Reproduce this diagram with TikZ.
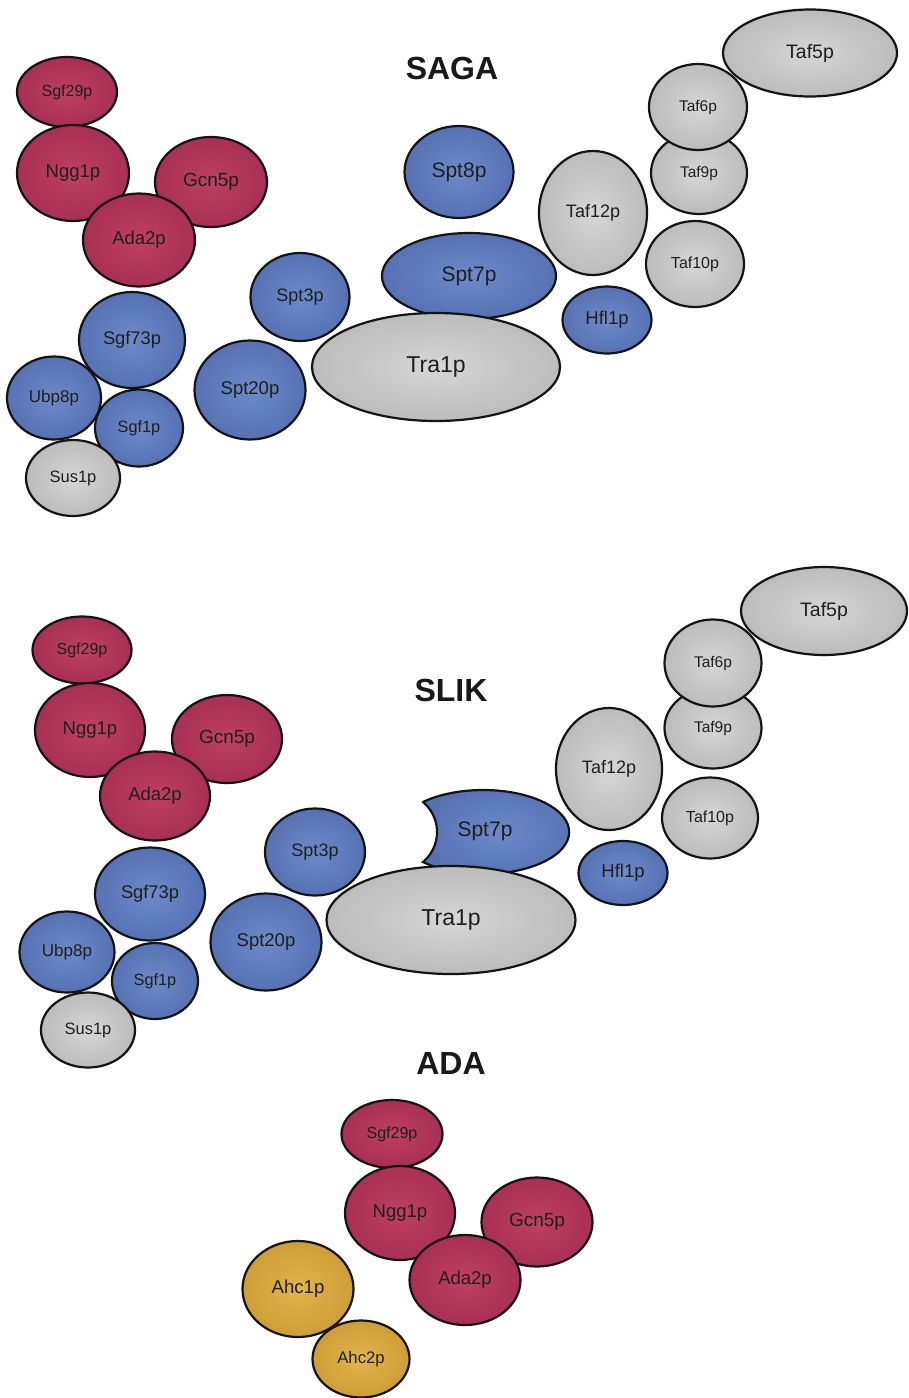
\documentclass[tikz,border=0pt]{standalone}
\usepackage{fontspec}
\setmainfont{Liberation Sans}
\usetikzlibrary{shapes.geometric}
\definecolor{redIn}{RGB}{190,64,100}
\definecolor{redOut}{RGB}{168,48,84}
\definecolor{bluIn}{RGB}{108,138,200}
\definecolor{bluOut}{RGB}{86,114,180}
\definecolor{gryIn}{RGB}{214,214,214}
\definecolor{gryOut}{RGB}{188,188,188}
\definecolor{golIn}{RGB}{226,180,76}
\definecolor{golOut}{RGB}{206,158,54}
\definecolor{txt}{RGB}{30,30,30}
\tikzset{
  x=1pt, y=1pt,
  prot/.style={ellipse, draw=black!92, line width=2.2pt, inner sep=0pt,
    text=txt, shade},
  protR/.style={prot, inner color=redIn, outer color=redOut},
  protB/.style={prot, inner color=bluIn, outer color=bluOut},
  protG/.style={prot, inner color=gryIn, outer color=gryOut},
  protY/.style={prot, inner color=golIn, outer color=golOut},
  sz/.style 2 args={minimum width=#1pt, minimum height=#2pt},
  fs/.style={font=\fontsize{#1}{#1}\selectfont},
  title/.style={font=\fontsize{32}{32}\selectfont\bfseries, text=black!90}
}
\begin{document}
\begin{tikzpicture}
\useasboundingbox[fill=white] (0,0) rectangle (908,-1398);

% ---------------- SAGA ----------------
\node[title] (sagaT) at (452,-68) {SAGA};
\node[protR, sz={100}{70}, fs=16]   (a-sgf29) at (67,-92)   {Sgf29p};
\node[protR, sz={112}{96}, fs=18.5] (a-ngg1)  at (73,-173)  {Ngg1p};
\node[protR, sz={112}{90}, fs=19]   (a-gcn5)  at (211,-182) {Gcn5p};
\node[protR, sz={112}{93}, fs=18.5] (a-ada2)  at (139,-240) {Ada2p};
\node[protB, sz={106}{96}, fs=18.3] (a-sgf73) at (132,-340) {Sgf73p};
\node[protB, sz={94}{83}, fs=17]    (a-ubp8)  at (54,-398)  {Ubp8p};
\node[protB, sz={88}{77}, fs=16.3]  (a-sgf1)  at (139,-428) {Sgf1p};
\node[protG, sz={94}{76}, fs=16.5]  (a-sus1)  at (73,-478)  {Sus1p};
\node[protB, sz={111}{99}, fs=18.5] (a-spt20) at (250,-390) {Spt20p};
\node[protB, sz={99}{88}, fs=18]    (a-spt3)  at (300,-297) {Spt3p};
\node[protB, sz={109}{92}, fs=21]   (a-spt8)  at (459,-172) {Spt8p};
\node[protB, sz={174}{86}, fs=21]   (a-spt7)  at (469,-276) {Spt7p};
\node[protG, sz={248}{108}, fs=23]  (a-tra1)  at (436,-367) {Tra1p};
\node[protB, sz={89}{67}, fs=18.5]  (a-hfl1)  at (607,-320) {Hfl1p};
\node[protG, sz={108}{124}, fs=18]  (a-taf12) at (593,-213) {Taf12p};
\node[protG, sz={98}{86}, fs=16]    (a-taf10) at (695,-264) {Taf10p};
\node[protG, sz={96}{82}, fs=15.5]  (a-taf9)  at (699,-173) {Taf9p};
\node[protG, sz={98}{86}, fs=15.5]  (a-taf6)  at (698,-107) {Taf6p};
\node[protG, sz={174}{87}, fs=19.5] (a-taf5)  at (810,-53)  {Taf5p};

% ---------------- SLIK ----------------
\node[title] (slikT) at (451,-690) {SLIK};
\node[protR, sz={99}{67}, fs=16]    (b-sgf29) at (82,-650)  {Sgf29p};
\node[protR, sz={110}{94}, fs=18.5] (b-ngg1)  at (90,-730)  {Ngg1p};
\node[protR, sz={110}{88}, fs=19]   (b-gcn5)  at (227,-739) {Gcn5p};
\node[protR, sz={110}{89}, fs=18.5] (b-ada2)  at (155,-796) {Ada2p};
\node[protB, sz={110}{93}, fs=18.3] (b-sgf73) at (150,-894) {Sgf73p};
\node[protB, sz={95}{81}, fs=17]    (b-ubp8)  at (67,-952)  {Ubp8p};
\node[protB, sz={86}{76}, fs=16.3]  (b-sgf1)  at (155,-981) {Sgf1p};
\node[protG, sz={94}{75}, fs=16.5]  (b-sus1)  at (88,-1030) {Sus1p};
\node[protB, sz={111}{97}, fs=18.5] (b-spt20) at (266,-942) {Spt20p};
\node[protB, sz={100}{87}, fs=18]   (b-spt3)  at (315,-852) {Spt3p};
% Spt7p without its Spt8p-binding region: ellipse with a circular bite
\shadedraw[draw=black!92, line width=2.2pt, inner color=bluIn, outer color=bluOut]
  (423,-802) arc[start angle=134.4, end angle=-134.4, x radius=86pt, y radius=42pt]
  arc[start angle=-50.2, end angle=50.2, radius=39.05pt] -- cycle;
\node[fs=21, text=txt] (b-spt7) at (485,-831) {Spt7p};
\node[protG, sz={249}{108}, fs=23]  (b-tra1)  at (451,-920) {Tra1p};
\node[protB, sz={89}{64}, fs=18.5]  (b-hfl1)  at (623,-873) {Hfl1p};
\node[protG, sz={106}{122}, fs=18]  (b-taf12) at (609,-769) {Taf12p};
\node[protG, sz={96}{81}, fs=16]    (b-taf10) at (710,-818) {Taf10p};
\node[protG, sz={97}{81}, fs=15.5]  (b-taf9)  at (713,-728) {Taf9p};
\node[protG, sz={97}{87}, fs=15.5]  (b-taf6)  at (713,-663) {Taf6p};
\node[protG, sz={166}{88}, fs=19.5] (b-taf5)  at (824,-611) {Taf5p};

% ---------------- ADA ----------------
\node[title] (adaT) at (451,-1063) {ADA};
\node[protR, sz={101}{68}, fs=16]   (c-sgf29) at (392,-1134) {Sgf29p};
\node[protR, sz={110}{94}, fs=18.5] (c-ngg1)  at (400,-1213) {Ngg1p};
\node[protR, sz={111}{89}, fs=19]   (c-gcn5)  at (537,-1222) {Gcn5p};
\node[protR, sz={111}{90}, fs=18.5] (c-ada2)  at (465,-1280) {Ada2p};
\node[protY, sz={111}{96}, fs=18.6] (c-ahc1)  at (298,-1289) {Ahc1p};
\node[protY, sz={97}{77}, fs=16.7]  (c-ahc2)  at (361,-1359) {Ahc2p};
\end{tikzpicture}
\end{document}
